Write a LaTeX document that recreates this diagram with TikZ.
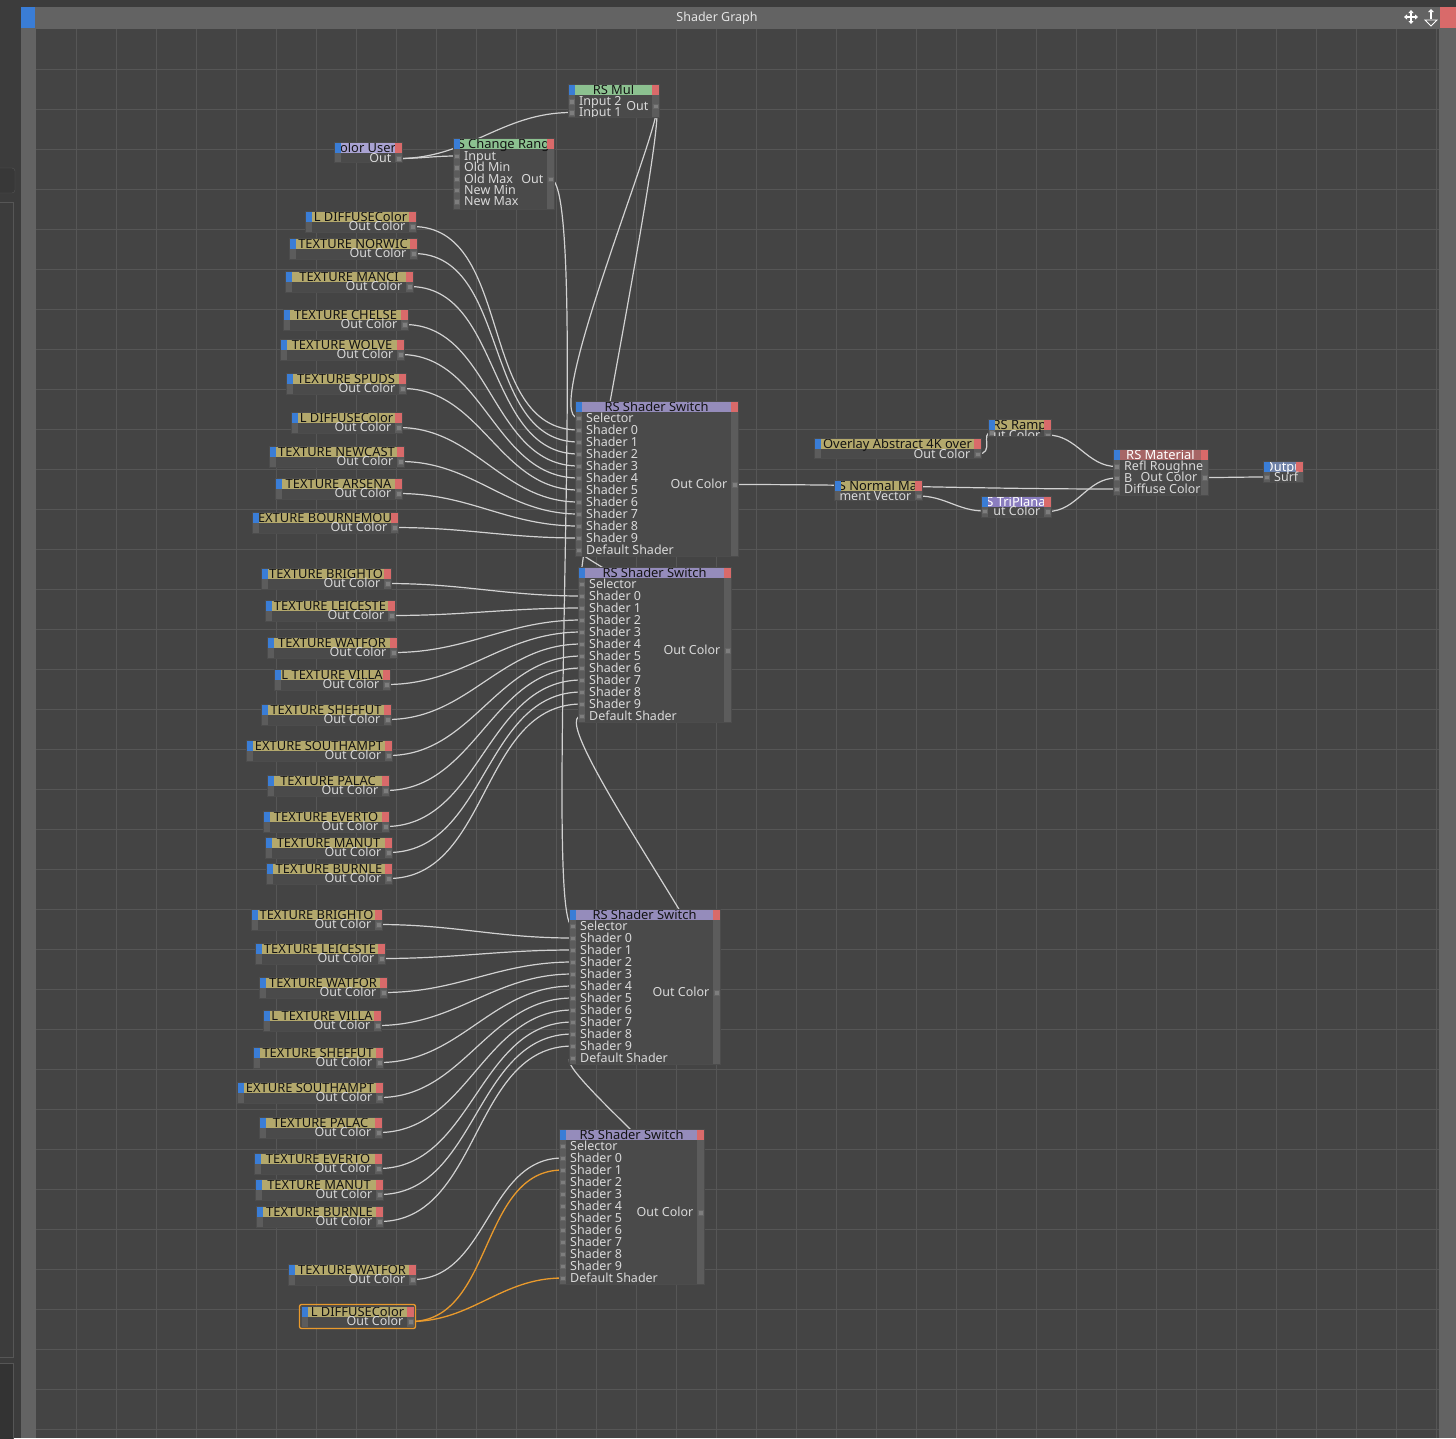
\documentclass[tikz,border=0pt]{standalone}
\usepackage{fontspec}
\setmainfont{Noto Sans}
\usetikzlibrary{arrows.meta}
\pgfdeclarelayer{grid}
\pgfdeclarelayer{wires}
\pgfsetlayers{grid,wires,main}

\definecolor{outerbg}{HTML}{3C3C3C}
\definecolor{canvas}{HTML}{444444}
\definecolor{gridline}{HTML}{565656}
\definecolor{framecol}{HTML}{636363}
\definecolor{nodebody}{HTML}{4A4A4A}
\definecolor{sidecol}{HTML}{5C5C5C}
\definecolor{portcol}{HTML}{7E7E7E}
\definecolor{texhead}{HTML}{B3A86C}
\definecolor{mathhead}{HTML}{8CC190}
\definecolor{swhead}{HTML}{958CBB}
\definecolor{userhead}{HTML}{A9A2D2}
\definecolor{mtlhead}{HTML}{A66565}
\definecolor{trihead}{HTML}{8A7DBF}
\definecolor{outhead}{HTML}{6E80A6}
\definecolor{tabblue}{HTML}{3A7DD6}
\definecolor{tabred}{HTML}{D96A6A}
\definecolor{wirecol}{HTML}{D2D2D2}
\definecolor{selorange}{HTML}{E99A2C}
\definecolor{rowtxt}{HTML}{DADADA}

% node box: name, left, top, right, bottom, header colour, title, rows
\newcommand\nodebox[8]{%
  \begin{scope}
    \clip (#2,#3) rectangle (#4,#5);
    \fill[nodebody] (#2,#3) rectangle (#4,#5);
    \fill[sidecol] (#2,#3) rectangle (#2+6.5,#5);
    \fill[sidecol] (#4-7,#3) rectangle (#4,#5);
    \fill[#6] (#2,#3) rectangle (#4,#3+10.5);
    \node[hdrtext] (#1) at ({(#2+#4)/2},#3+5.5) {#7};
    \fill[tabblue] (#2,#3) rectangle (#2+6.5,#3+10.5);
    \fill[tabred] (#4-7,#3) rectangle (#4,#3+10.5);
    #8
  \end{scope}
  \draw[black!70, line width=0.5pt] (#2,#3) rectangle (#4,#5);}
\newcommand\inp[4]{%
  \node[port] (#1) at (#2+3.5,#3) {};
  \node[rowtext, anchor=west] (#1-t) at (#2+11,#3) {#4};}
\newcommand\outp[4]{%
  \node[port] (#1) at (#2-3.5,#3) {};
  \node[rowtext, anchor=east] (#1-t) at (#2-10.5,#3) {#4};}
\newcommand\texnode[5]{%
  \nodebox{#1}{#2}{#3}{#4}{#3+21}{texhead}{#5}{\outp{#1-out}{#4}{#3+15.5}{Out Color}}}
\newcommand\switchnode[4]{%
  \nodebox{#1}{#2}{#3}{#4}{#3+155}{swhead}{RS Shader Switch}{%
    \inp{#1-sel}{#2}{#3+17}{Selector}
    \foreach \k in {0,...,9}{\inp{#1-\k}{#2}{#3+29+12*\k}{Shader \k}}
    \inp{#1-def}{#2}{#3+149}{Default Shader}
    \outp{#1-out}{#4}{#3+83.5}{Out Color}}}

\begin{document}
\begin{tikzpicture}[x=1pt, y=-1pt,
    hdrtext/.style={font=\fontsize{12.9}{13}\selectfont, text=black!92, inner sep=0pt, text height=9pt, text depth=0pt},
    rowtext/.style={font=\fontsize{12.5}{13}\selectfont, text=rowtxt, inner sep=0pt, text height=8.8pt, text depth=0pt},
    port/.style={draw=black!60, fill=portcol, line width=0.4pt, minimum size=4.5pt, inner sep=0pt},
    wire/.style={draw=wirecol, line width=1.2pt},
    selwire/.style={draw=selorange, line width=1.3pt},
    icon/.style={draw=white, line width=1.2pt}]
\useasboundingbox (0,0) rectangle (1456,1438);

\begin{pgfonlayer}{grid}
  \fill[outerbg] (0,0) rectangle (1456,1438);
  \draw[gridline, fill=black!78, rounded corners=3pt] (-5,168) rectangle (15,193);
  \draw[gridline] (-5,202) rectangle (13,1357);
  \draw[gridline, fill=black!80] (-5,1363) rectangle (13,1445);
  \fill[framecol] (21,7) rectangle (1456,29);
  \fill[framecol] (21,29) rectangle (36,1438);
  \fill[framecol] (1439,29) rectangle (1456,1438);
  \fill[tabblue] (21,7) rectangle (35,28);
  \fill[tabred] (1440,7) rectangle (1456,28);
  \fill[canvas] (36,29) rectangle (1439,1438);
  \foreach \gx in {76.7,116.7,...,1437}
    \draw[gridline, line width=0.8pt] (\gx,29) -- (\gx,1438);
  \foreach \gy in {69.3,109.3,...,1430}
    \draw[gridline, line width=0.8pt] (36,\gy) -- (1439,\gy);
  \node[font=\fontsize{12.5}{12.5}\selectfont, text=white!90!black] (title) at (717,18) {Shader Graph};
  \draw[icon, {Triangle[length=3pt,width=5pt]}-{Triangle[length=3pt,width=5pt]}] (1404,17) -- (1418,17);
  \draw[icon, {Triangle[length=3pt,width=5pt]}-{Triangle[length=3pt,width=5pt]}] (1411,10) -- (1411,24);
  \draw[icon, -{Triangle[length=3pt,width=5.5pt]}] (1431,19) -- (1431,9);
  \draw[icon, line width=0.9pt] (1425,20) -- (1437,20) -- (1431,26) -- cycle;
\end{pgfonlayer}

\nodebox{mul}{568}{84}{659}{117}{mathhead}{RS Mul}{%
  \inp{mul-in2}{568}{101.5}{Input 2}
  \inp{mul-in1}{568}{112.5}{Input 1}
  \outp{mul-out}{659}{106}{Out}}
\nodebox{cuser}{334}{142}{402}{162}{userhead}{olor User}{%
  \outp{cuser-out}{402}{158.5}{Out}}
\nodebox{crange}{453}{138}{554}{209}{mathhead}{S Change Rang}{%
  \inp{crange-in}{453}{156}{Input}
  \inp{crange-omin}{453}{167.5}{Old Min}
  \inp{crange-omax}{453}{179}{Old Max}
  \inp{crange-nmin}{453}{190}{New Min}
  \inp{crange-nmax}{453}{201.5}{New Max}
  \outp{crange-out}{554}{179}{Out}}

\foreach \nm/\xl/\yt/\xr/\ttl in {0/305/211/416/L DIFFUSEColor, 1/289/238/417/TEXTURE NORWIC,
    2/285/271/413/TEXTURE MANCI, 3/283/309/408/TEXTURE CHELSE, 4/280/339/404/TEXTURE WOLVE,
    5/286/373/406/TEXTURE SPUDS, 6/291/412/402/L DIFFUSEColor, 7/269/446/404/TEXTURE NEWCAST,
    8/275/478/402/TEXTURE ARSENA, 9/252/512/398/EXTURE BOURNEMOU}
  \texnode{a\nm}{\xl}{\yt}{\xr}{\ttl};
\foreach \nm/\xl/\yt/\xr/\ttl in {0/261/568/391/TEXTURE BRIGHTO, 1/265/600/395/TEXTURE LEICESTE,
    2/267/637/397/TEXTURE WATFOR, 3/274/669/390/L TEXTURE VILLA, 4/261/704/391/TEXTURE SHEFFUT,
    5/246/740/392/EXTURE SOUTHAMPT, 6/267/775/389/TEXTURE PALAC, 7/263/811/389/TEXTURE EVERTO,
    8/265/837/392/TEXTURE MANUT, 9/266/863/392/TEXTURE BURNLE}
  \texnode{b\nm}{\xl}{\yt}{\xr}{\ttl};
\foreach \nm/\xl/\yt/\xr/\ttl in {0/251/909/382/TEXTURE BRIGHTO, 1/255/943/385/TEXTURE LEICESTE,
    2/259/977/387/TEXTURE WATFOR, 3/263/1010/381/L TEXTURE VILLA, 4/253/1047/383/TEXTURE SHEFFUT,
    5/237/1082/383/EXTURE SOUTHAMPT, 6/259/1117/382/TEXTURE PALAC, 7/254/1153/382/TEXTURE EVERTO,
    8/255/1179/383/TEXTURE MANUT, 9/256/1206/383/TEXTURE BURNLE}
  \texnode{c\nm}{\xl}{\yt}{\xr}{\ttl};
\texnode{d0}{288}{1264}{416}{TEXTURE WATFOR}
\texnode{d1}{301}{1306}{414}{L DIFFUSEColor}
\draw[selwire, rounded corners=2pt] (299.5,1304.5) rectangle (415.5,1328.5);

\switchnode{sw1}{575}{401}{738}
\switchnode{sw2}{578}{567}{731}
\switchnode{sw3}{569}{909}{720}
\switchnode{sw4}{559}{1129}{704}

\nodebox{overlay}{814}{438}{981}{458}{texhead}{Overlay Abstract 4K over}{%
  \outp{overlay-out}{981}{454}{Out Color}}
\nodebox{ramp}{988}{419}{1051}{436}{texhead}{RS Ramp}{%
  \node[port] (ramp-in) at (991.5,432.5) {};
  \outp{ramp-out}{1051}{435}{ut Color}}
\nodebox{nmap}{834}{480}{922}{500}{texhead}{S Normal Ma}{%
  \outp{nmap-out}{922}{496}{ment Vector}}
\nodebox{tri}{981}{496}{1051}{517}{trihead}{\color{white}S TriPlana}{%
  \node[port] (tri-in) at (984.5,511) {};
  \outp{tri-out}{1051}{511.5}{ut Color}}
\nodebox{mtl}{1113}{449}{1208}{495}{mtlhead}{\color{white}RS Material}{%
  \inp{mtl-rough}{1113}{466.5}{Refl Roughne}
  \inp{mtl-bump}{1113}{478}{B}
  \inp{mtl-diff}{1113}{489}{Diffuse Color}
  \outp{mtl-out}{1208}{477.5}{Out Color}}
\nodebox{outn}{1263}{461}{1303}{482}{outhead}{\color{white}Outpu}{%
  \inp{outn-surf}{1263}{477}{Surf}}

\begin{pgfonlayer}{wires}
  \foreach \k in {0,...,9}{
    \draw[wire] (a\k-out.center) to[out=0,in=180] (sw1-\k.center);
    \draw[wire] (b\k-out.center) to[out=0,in=180] (sw2-\k.center);
    \draw[wire] (c\k-out.center) to[out=0,in=180] (sw3-\k.center);
  }
  \draw[wire] (d0-out.center) to[out=0,in=180] (sw4-0.center);
  \draw[selwire] (d1-out.center) to[out=0,in=180] (sw4-1.center);
  \draw[selwire] (d1-out.center) to[out=0,in=180] (sw4-def.center);
  \draw[wire] (cuser-out.center) to[out=0,in=180] (crange-in.center);
  \draw[wire] (cuser-out.center) to[out=0,in=180] (mul-in1.center);
  \draw[wire] (mul-out.center) .. controls +(15,0) and +(-40,0) .. (sw1-sel.center);
  \draw[wire] (mul-out.center) .. controls +(15,0) and +(-10,0) .. (sw2-sel.center);
  \draw[wire] (crange-out.center) .. controls +(40,0) and +(-30,0) .. (sw3-sel.center);
  \draw[wire] (sw2-out.center) .. controls +(30,0) and +(-15,0) .. (sw1-def.center);
  \draw[wire] (sw3-out.center) .. controls +(30,0) and +(-40,0) .. (sw2-def.center);
  \draw[wire] (sw4-out.center) .. controls +(30,0) and +(-30,0) .. (sw3-def.center);
  \draw[wire] (sw1-out.center) to[out=0,in=180] (mtl-diff.center);
  \draw[wire] (overlay-out.center) .. controls +(18,0) and +(-12,0) .. (ramp-in.center);
  \draw[wire] (ramp-out.center) to[out=0,in=180] (mtl-rough.center);
  \draw[wire] (nmap-out.center) to[out=0,in=180] (tri-in.center);
  \draw[wire] (tri-out.center) to[out=0,in=180] (mtl-bump.center);
  \draw[wire] (mtl-out.center) to[out=0,in=180] (outn-surf.center);
\end{pgfonlayer}
\end{tikzpicture}
\end{document}
